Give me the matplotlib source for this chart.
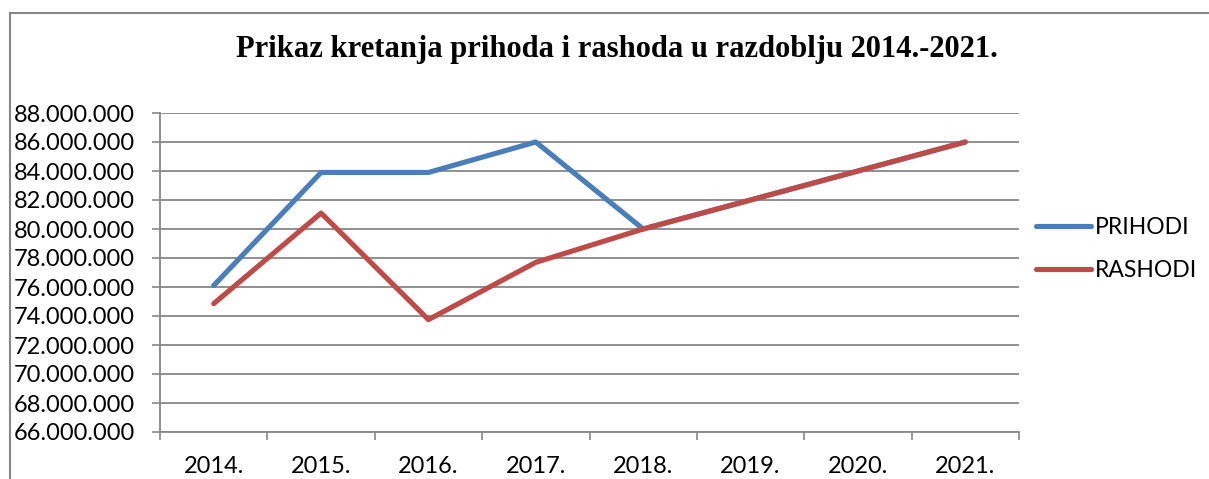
import matplotlib as mpl
import matplotlib.pyplot as plt
from matplotlib.lines import Line2D
from matplotlib.ticker import FuncFormatter, MultipleLocator

years = ["2014.", "2015.", "2016.", "2017.", "2018.", "2019.", "2020.", "2021."]
prihodi = [76100000, 83900000, 83900000, 86000000, 80000000, 82000000, 84000000, 86000000]
rashodi = [74850000, 81100000, 73750000, 77700000, 80000000, 82000000, 84000000, 86000000]

BLUE = "#4a7ebb"
RED = "#be4b48"
GRID = "#878787"

W, H = 1209, 479

mpl.rcParams["font.family"] = ["Lato", "DejaVu Sans"]

fig = plt.figure(figsize=(W / 100, H / 100), dpi=100)
ax = fig.add_axes([160 / W, 1 - 432 / H, (1019 - 160) / W, (432 - 113) / H])

x = list(range(len(years)))
ax.plot(x, prihodi, color=BLUE, lw=3.7, solid_capstyle="round", label="PRIHODI", zorder=3)
ax.plot(x, rashodi, color=RED, lw=3.7, solid_capstyle="round", label="RASHODI", zorder=4)

ax.set_xlim(-0.5, len(years) - 0.5)
ax.set_ylim(66000000, 88000000)
ax.yaxis.set_major_locator(MultipleLocator(2000000))
ax.yaxis.set_major_formatter(FuncFormatter(lambda v, p: f"{int(v):,}".replace(",", ".")))

ax.set_xticks(x)
ax.set_xticklabels(years)
ax.set_xticks([i - 0.5 for i in range(len(years) + 1)], minor=True)
ax.tick_params(axis="x", which="major", length=0, pad=17, labelsize=17)
ax.tick_params(axis="x", which="minor", length=6, width=1.2, color=GRID, direction="out")
ax.tick_params(axis="y", length=6, width=1.2, color=GRID, pad=12, labelsize=17)

ax.grid(axis="y", color=GRID, lw=1.3)
ax.set_axisbelow(True)
for s in ["top", "right"]:
    ax.spines[s].set_visible(False)
for s in ["left", "bottom"]:
    ax.spines[s].set_color(GRID)
    ax.spines[s].set_linewidth(1.3)

fig.text(617 / W, 1 - 49 / H, "Prikaz kretanja prihoda i rashoda u razdoblju 2014.-2021.",
         ha="center", va="center", fontsize=22, fontweight="bold",
         family="Liberation Serif")

fig.legend(loc="center left", bbox_to_anchor=(1015 / W, 1 - 249 / H), frameon=False,
           fontsize=16.5, handlelength=2.4, handletextpad=0.2, labelspacing=0.95)

# chart area border (left and top visible)
fig.add_artist(Line2D([10 / W, 10 / W], [0, 1 - 13 / H], color=GRID, lw=1.5,
                      transform=fig.transFigure))
fig.add_artist(Line2D([10 / W, 1], [1 - 13 / H, 1 - 13 / H], color=GRID, lw=1.5,
                      transform=fig.transFigure))

fig.savefig("out.png", dpi=100)
